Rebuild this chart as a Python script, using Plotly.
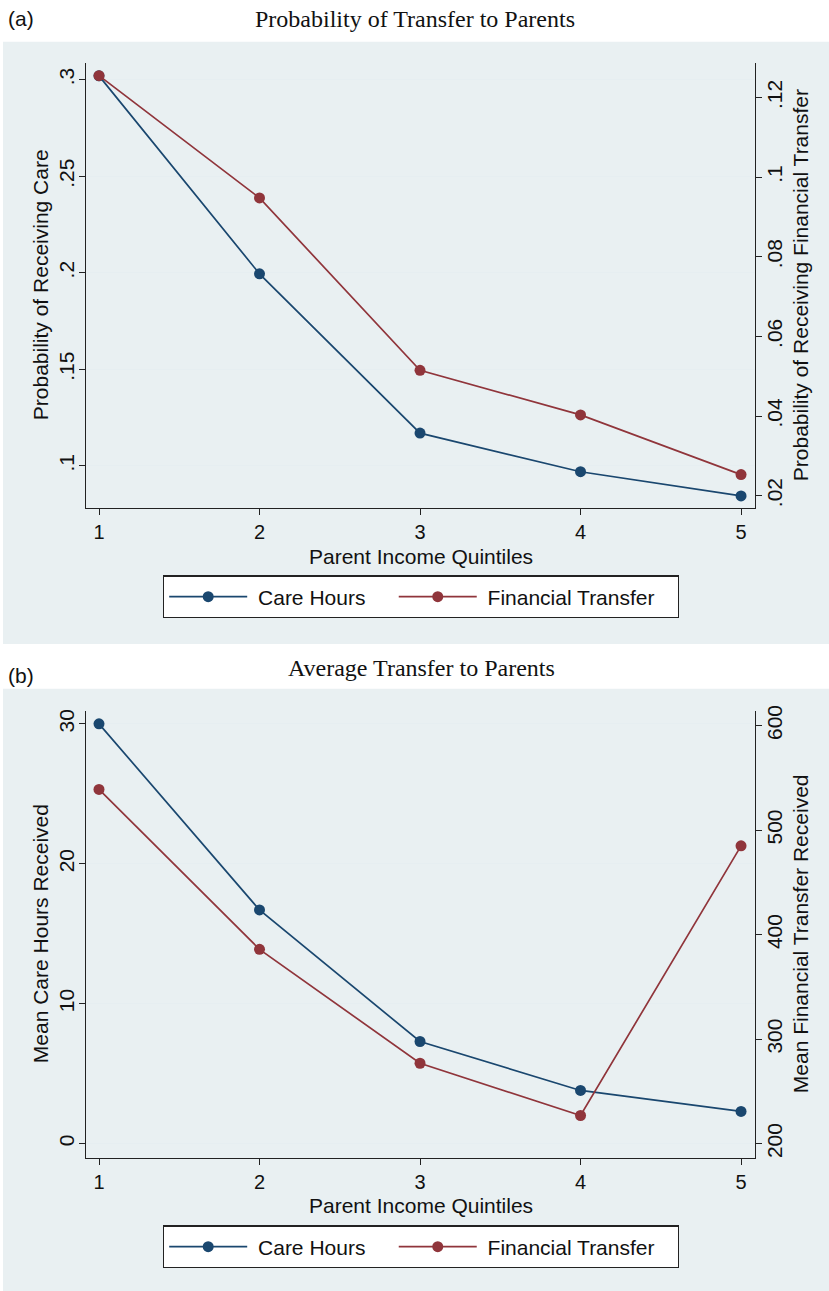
import plotly.graph_objects as go

# ---------------- data ----------------
quintiles = [1, 2, 3, 4, 5]
prob_care = [0.302, 0.1995, 0.117, 0.097, 0.0845]
prob_fin = [0.1255, 0.0948, 0.0515, 0.0403, 0.0253]
mean_care = [30.0, 16.7, 7.3, 3.8, 2.3]
mean_fin = [539, 386, 277, 227, 485]

series_names = ["Care Hours", "Financial Transfer"]
x_ticks = [1, 2, 3, 4, 5]
a_left_ticks = [0.1, 0.15, 0.2, 0.25, 0.3]
a_left_text = [".1", ".15", ".2", ".25", ".3"]
a_right_ticks = [0.02, 0.04, 0.06, 0.08, 0.1, 0.12]
a_right_text = [".02", ".04", ".06", ".08", ".1", ".12"]
b_left_ticks = [0, 10, 20, 30]
b_right_ticks = [200, 300, 400, 500, 600]

# ---------------- style ----------------
W, H = 829, 1291
NAVY = "#1a476f"
MAROON = "#90353b"
BG = "#e9f0f2"
GRID = "#e6eef1"
SANS = "Liberation Sans, Arial, sans-serif"
SERIF = "Liberation Serif, Times New Roman, serif"
TXT = "#111"
FS = 21
NB = "\u00a0"

# legend labels padded with non-breaking spaces to mimic Stata's roomy key spacing
legend_labels = [NB + series_names[0] + NB * 4, NB + series_names[1] + NB * 3]


def fx(px):
    return px / W


def fy(py):
    return 1 - py / H


fig = go.Figure()

line_style = dict(width=1.7)
mk = dict(size=11, symbol="circle")

fig.add_trace(go.Scatter(x=quintiles, y=prob_care, mode="lines+markers", name=legend_labels[0],
                         line=dict(color=NAVY, **line_style), marker=dict(color=NAVY, **mk),
                         xaxis="x", yaxis="y", legend="legend"))
fig.add_trace(go.Scatter(x=quintiles, y=prob_fin, mode="lines+markers", name=legend_labels[1],
                         line=dict(color=MAROON, **line_style), marker=dict(color=MAROON, **mk),
                         xaxis="x", yaxis="y2", legend="legend"))
fig.add_trace(go.Scatter(x=quintiles, y=mean_care, mode="lines+markers", name=legend_labels[0],
                         line=dict(color=NAVY, **line_style), marker=dict(color=NAVY, **mk),
                         xaxis="x2", yaxis="y3", legend="legend2"))
fig.add_trace(go.Scatter(x=quintiles, y=mean_fin, mode="lines+markers", name=legend_labels[1],
                         line=dict(color=MAROON, **line_style), marker=dict(color=MAROON, **mk),
                         xaxis="x2", yaxis="y4", legend="legend2"))

xdom = [fx(86), fx(755)]
ydom_a = [fy(504), fy(57)]
ydom_b = [fy(1157), fy(708)]

axis_common = dict(showline=True, linecolor="#222", linewidth=1.2, ticks="outside",
                   ticklen=6, tickcolor="#222", tickwidth=1.2, zeroline=False, mirror=False)

xaxis_style = dict(axis_common, domain=xdom, range=[0.919, 5.087], tickvals=x_ticks,
                   showgrid=False, tickfont=dict(family=SANS, size=20, color=TXT),
                   ticklabelstandoff=0)

left_y = dict(axis_common, side="left", tickangle=-90, showgrid=True, gridcolor=GRID, gridwidth=1.3,
              tickfont=dict(family=SANS, size=FS, color=TXT), ticklabelstandoff=-3)
right_y = dict(axis_common, side="right", tickangle=-90, showgrid=False,
               tickfont=dict(family=SANS, size=FS, color=TXT), ticklabelstandoff=-5)

legend_common = dict(orientation="h", x=fx(421), xanchor="center", yanchor="top",
                     bgcolor="white", bordercolor="#222", borderwidth=1.2,
                     font=dict(family=SANS, size=FS, color=TXT), itemwidth=78,
                     traceorder="normal")


def note(text, x, y, size=FS, family=SANS, angle=0, xanchor="center"):
    return dict(text=text, x=fx(x), y=fy(y), xref="paper", yref="paper", xanchor=xanchor,
                yanchor="middle", showarrow=False, textangle=angle,
                font=dict(family=family, size=size, color=TXT))


fig.update_layout(
    width=W, height=H,
    margin=dict(l=0, r=0, t=0, b=0),
    paper_bgcolor="white", plot_bgcolor="white",
    xaxis=dict(xaxis_style, anchor="y"),
    xaxis2=dict(xaxis_style, anchor="y3"),
    yaxis=dict(left_y, domain=ydom_a, anchor="x", range=[0.0784, 0.3088],
               tickvals=a_left_ticks, ticktext=a_left_text),
    yaxis2=dict(right_y, domain=ydom_a, anchor="x", overlaying="y", range=[0.017, 0.12875],
                tickvals=a_right_ticks, ticktext=a_right_text),
    yaxis3=dict(left_y, domain=ydom_b, anchor="x2", range=[-1.0, 30.94],
                tickvals=b_left_ticks),
    yaxis4=dict(right_y, domain=ydom_b, anchor="x2", overlaying="y3", range=[186.7, 614.3],
                tickvals=b_right_ticks),
    legend=dict(legend_common, y=fy(572)),
    legend2=dict(legend_common, y=fy(1225)),
    shapes=[
        dict(type="rect", xref="paper", yref="paper", x0=fx(3), x1=1, y0=fy(641), y1=fy(36),
             fillcolor=BG, line=dict(width=0), layer="below"),
        dict(type="rect", xref="paper", yref="paper", x0=fx(3), x1=1, y0=0, y1=fy(686),
             fillcolor=BG, line=dict(width=0), layer="below"),
    ],
    annotations=[
        note("(a)", 6, 13, xanchor="left"),
        note("Probability of Transfer to Parents", 415, 13, size=24, family=SERIF),
        note("(b)", 6, 673, xanchor="left"),
        note("Average Transfer to Parents", 421, 665, size=24, family=SERIF),
        # axis titles
        note("Parent Income Quintiles", 420.5, 553),
        note("Parent Income Quintiles", 420.5, 1205),
        note("Probability of Receiving Care", 40, 280.5, angle=-90),
        note("Probability of Receiving Financial Transfer", 800, 280.5, angle=-90),
        note("Mean Care Hours Received", 40, 932.5, angle=-90),
        note("Mean Financial Transfer Received", 800, 932.5, angle=-90),
    ],
)

fig.write_html("out.html", config={"displayModeBar": False},
               post_script="document.body.style.margin='0px';")
